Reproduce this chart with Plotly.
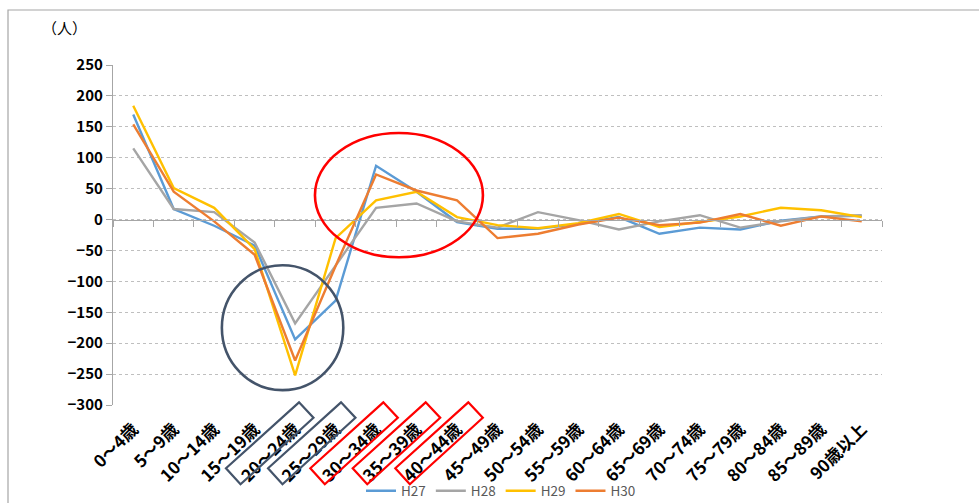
import plotly.graph_objects as go

# ── data ──────────────────────────────────────────────────────────────────────
AGE_GROUPS = [
    "0～4歳", "5～9歳", "10～14歳", "15～19歳", "20～24歳", "25～29歳",
    "30～34歳", "35～39歳", "40～44歳", "45～49歳", "50～54歳", "55～59歳",
    "60～64歳", "65～69歳", "70～74歳", "75～79歳", "80～84歳", "85～89歳",
    "90歳以上",
]
H27 = [170, 17, -10, -42, -194, -131, 87, 45, -4, -15, -15, -7, 4, -23, -13, -16, -2, 5, 6]
H28 = [115, 17, 12, -37, -168, -75, 19, 26, -3, -13, 12, -1, -16, -3, 7, -13, -3, 5, 7]
H29 = [184, 51, 19, -48, -252, -30, 31, 45, 4, -9, -14, -6, 9, -12, -4, 5, 19, 15, 4]
H30 = [154, 45, -3, -57, -228, -75, 73, 47, 31, -30, -23, -8, 3, -9, -5, 9, -10, 5, -3]

SERIES = [("H27", H27), ("H28", H28), ("H29", H29), ("H30", H30)]
Y_TICKS = [250, 200, 150, 100, 50, 0, -50, -100, -150, -200, -250, -300]

# ── style ─────────────────────────────────────────────────────────────────────
COLORS = {"H27": "#5B9BD5", "H28": "#A5A5A5", "H29": "#FFC000", "H30": "#ED7D31"}
AXIS_GREY = "#A6A6A6"
GRID_GREY = "#BFBFBF"
DARK = "#44546A"
RED = "#FF0000"
FONT = "Noto Sans CJK JP"

W, H = 979, 503
L, R, T, B = 113, 97, 65, 98
PW, PH = W - L - R, H - T - B


def px(x, y):
    # pixel position -> paper coords
    return (x - L) / PW, (H - B - y) / PH


def label_box(top_x, top_y, color):
    pts = [(top_x, top_y), (top_x + 14.5, top_y + 15.5),
           (top_x - 58.5, top_y + 82), (top_x - 73, top_y + 66)]
    p = [px(*q) for q in pts]
    path = "M " + " L ".join(f"{a:.4f},{b:.4f}" for a, b in p) + " Z"
    return dict(type="path", xref="paper", yref="paper", path=path,
                line=dict(color=color, width=2.2), layer="above")


fig = go.Figure()
for name, vals in SERIES:
    fig.add_trace(go.Scatter(
        x=AGE_GROUPS, y=vals, name=name, mode="lines",
        line=dict(color=COLORS[name], width=2.4),
    ))

# axis line with boundary ticks sitting on y=0
fig.add_trace(go.Scatter(x=[None], y=[None], xaxis="x2", showlegend=False,
                         hoverinfo="skip"))

shapes = []
# outer chart border
bx0, by0 = px(8, 10)
bx1, by1 = px(990, 515)
shapes.append(dict(type="rect", xref="paper", yref="paper", x0=bx0, y0=by1,
                   x1=bx1, y1=by0, line=dict(color="#A6A6A6", width=1.2),
                   layer="below"))
# highlight ellipse / circle
shapes.append(dict(type="circle", xref="x", yref="y", x0=4.49, x1=8.64,
                   y0=-61, y1=140, line=dict(color=RED, width=2.6)))
shapes.append(dict(type="circle", xref="x", yref="y", x0=2.19, x1=5.19,
                   y0=-276, y1=-74, line=dict(color=DARK, width=2.6)))
# boxes around tick labels
for tx, c in [(299, DARK), (341, DARK), (383.3, RED), (425.7, RED), (468.3, RED)]:
    shapes.append(label_box(tx, 402.3, c))

n = len(AGE_GROUPS)
ux, uy = px(40, 28)

fig.update_layout(
    width=W, height=H,
    margin=dict(l=L, r=R, t=T, b=B, autoexpand=False),
    paper_bgcolor="white", plot_bgcolor="white",
    font=dict(family=FONT, color="#000000"),
    showlegend=True,
    legend=dict(orientation="h", xref="container", yref="container",
                x=501 / W, xanchor="center", y=(H - 491) / H,
                yanchor="middle", font=dict(size=13.5, color="#595959"),
                bgcolor="rgba(0,0,0,0)", itemwidth=30),
    xaxis=dict(
        type="category", range=[-0.5, n - 0.5], showgrid=False,
        showline=False, ticks="", zeroline=False, tickangle=-45,
        ticklabelstandoff=10, automargin=False,
        tickfont=dict(size=17, family=FONT, weight="bold", color="#000000"),
    ),
    xaxis2=dict(
        overlaying="x", anchor="free", position=300 / 550, side="bottom",
        range=[-0.5, n - 0.5], showgrid=False, zeroline=False,
        showline=True, linecolor=AXIS_GREY, linewidth=1.2,
        ticks="outside", ticklen=6, tickcolor=AXIS_GREY, tickwidth=1,
        tickvals=[i - 0.5 for i in range(n + 1)], showticklabels=False,
        automargin=False,
    ),
    yaxis=dict(
        range=[-300, 250], tickvals=Y_TICKS, showgrid=True,
        gridcolor=GRID_GREY, griddash="dot", gridwidth=1, zeroline=False,
        showline=True, linecolor=AXIS_GREY, linewidth=1.2,
        ticks="outside", ticklen=6, tickcolor=AXIS_GREY, automargin=False,
        tickfont=dict(size=15, family=FONT, weight="bold", color="#000000"),
    ),
    shapes=shapes,
    annotations=[dict(text="（人）", xref="paper", yref="paper", x=ux, y=uy,
                      xanchor="left", yanchor="middle", showarrow=False,
                      font=dict(size=15, family=FONT, color="#000000"))],
)

fig.write_html(
    "out.html",
    config={"displayModeBar": False},
    post_script="document.body.style.margin='0';document.body.style.overflow='hidden';",
)
